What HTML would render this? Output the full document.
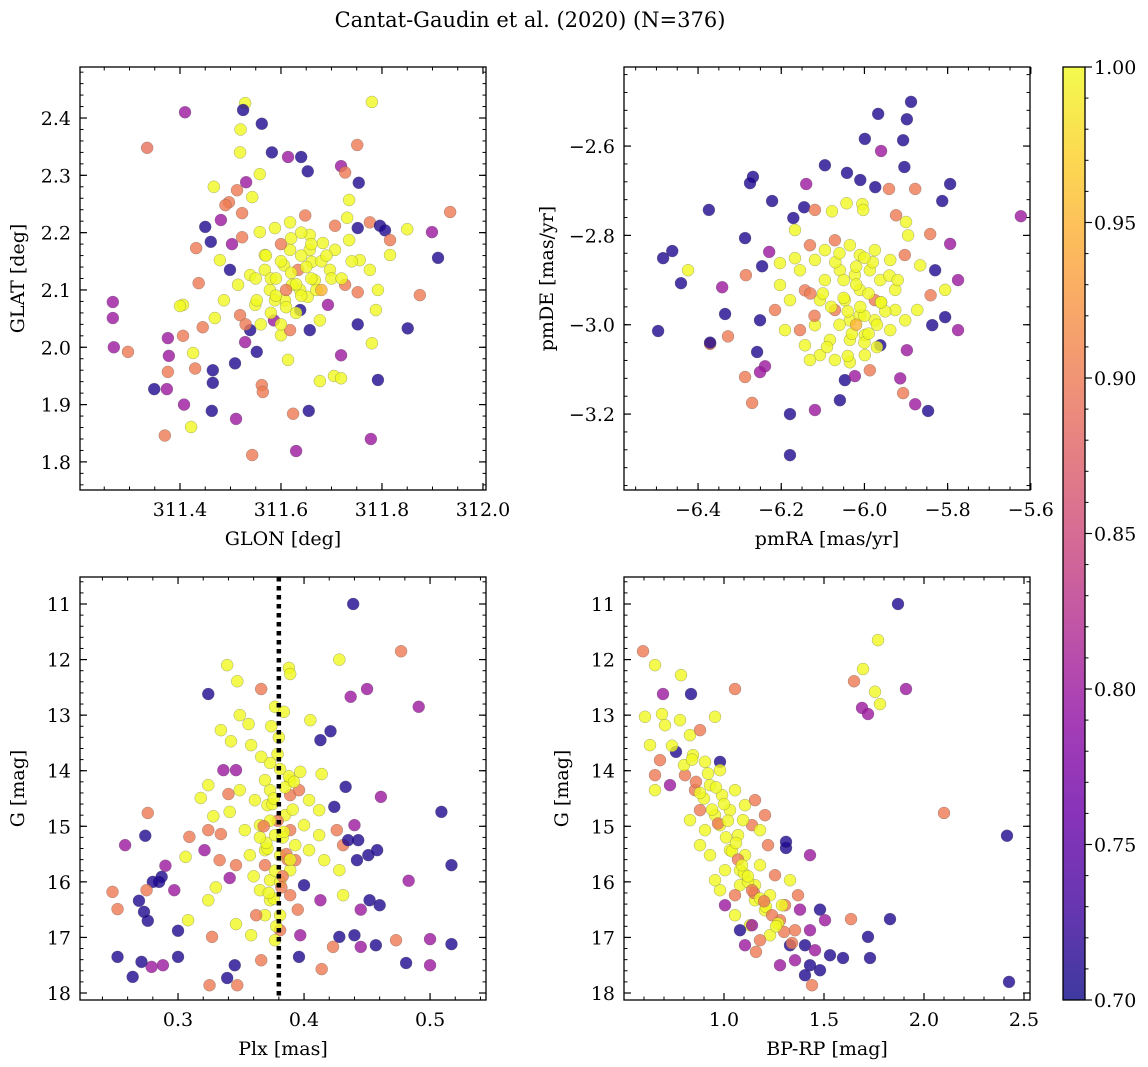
<!DOCTYPE html>
<html><head><meta charset="utf-8">
<style>
body{margin:0;background:#fff;}
svg{display:block;font-family:"DejaVu Serif","Liberation Serif",serif;}
</style></head>
<body>
<svg id="fig" width="1148" height="1067" viewBox="0 0 1148 1067" xmlns="http://www.w3.org/2000/svg">
<text x="530" y="27" font-size="21" text-anchor="middle">Cantat-Gaudin et al. (2020) (N=376)</text>
</svg>
<script>
// ---- Panel 1: GLON vs GLAT ----
const glonX=[311.529,311.525,311.562,311.780,311.41,311.335,311.52,311.519,311.582,311.614,311.64,311.751,311.719,311.754,311.653,311.727,311.558,311.467,311.513,311.497,311.49,311.543,311.523,311.45,311.481,311.432,311.461,311.503,311.523,311.558,311.588,311.618,311.648,311.657,311.683,311.707,311.731,311.735,311.752,311.776,311.796,311.806,311.816,311.85,311.899,311.935,311.911,311.875,311.851,311.788,311.78,311.792,311.778,311.752,311.719,311.705,311.719,311.677,311.655,311.624,311.63,311.543,311.511,311.562,311.564,311.614,311.6,311.552,311.509,311.465,311.465,311.463,311.422,311.408,311.37,311.349,311.374,311.376,311.378,311.376,311.406,311.426,311.43,311.406,311.4,311.437,311.445,311.469,311.487,311.519,311.549,311.578,311.608,311.638,311.667,311.697,311.727,311.756,311.661,311.634,311.606,311.568,311.539,311.499,311.479,311.515,311.638,311.677,311.693,311.657,311.586,311.618,311.539,311.529,311.552,311.588,311.622,311.653,311.568,311.618,311.657,311.707,311.735,311.267,311.267,311.269,311.297,311.752,311.792,311.776,311.816,311.531,
 311.58,311.6,311.62,311.64,311.66,311.68,311.59,311.61,311.63,311.65,311.67,311.57,311.6,311.62,311.64,311.66,311.7,311.55,311.58,311.61,311.63,311.69,311.72,311.56,311.6,311.64,311.68,311.53,311.74,311.59];
const glatY=[2.426,2.414,2.390,2.428,2.41,2.348,2.38,2.340,2.34,2.332,2.332,2.353,2.316,2.287,2.307,2.305,2.302,2.28,2.274,2.253,2.248,2.262,2.234,2.21,2.222,2.173,2.184,2.18,2.192,2.201,2.208,2.218,2.23,2.196,2.182,2.212,2.226,2.257,2.208,2.218,2.212,2.204,2.187,2.206,2.201,2.236,2.156,2.091,2.033,2.065,2.007,1.943,1.84,2.04,1.986,1.95,1.946,1.941,1.889,1.884,1.819,1.812,1.875,1.934,1.922,1.978,2.021,1.992,1.972,1.96,1.938,1.889,1.861,1.90,1.846,1.927,1.927,1.957,1.985,2.016,2.02,1.99,1.963,2.074,2.072,2.112,2.035,2.051,2.082,2.056,2.074,2.1,2.082,2.1,2.117,2.135,2.109,2.152,2.149,2.135,2.143,2.135,2.126,2.135,2.152,2.109,2.065,2.047,2.074,2.03,2.047,2.03,2.03,2.009,2.082,2.082,2.109,2.088,2.161,2.17,2.17,2.17,2.187,2.079,2.051,2.0,1.992,2.096,2.1,2.135,2.161,2.288,
 2.12,2.15,2.13,2.16,2.12,2.15,2.09,2.07,2.11,2.14,2.1,2.16,2.18,2.19,2.2,2.18,2.12,2.12,2.06,2.1,2.06,2.16,2.12,2.04,2.04,2.09,2.1,2.04,2.15,2.12];
const glonP=[1,0.71,0.71,1,0.8,0.89,1,1,0.71,0.8,0.71,0.9,0.8,0.71,0.71,0.9,1,1,0.9,0.9,0.9,1,0.9,0.71,0.8,0.9,0.71,0.8,0.9,1,1,1,0.9,1,1,0.9,1,1,0.71,0.9,0.71,0.71,0.9,1,0.8,0.9,0.71,0.9,0.71,1,1,0.71,0.8,0.71,0.8,1,1,1,0.71,0.9,0.8,0.9,0.8,0.9,0.9,1,1,0.71,0.71,0.71,0.71,0.71,1,0.8,0.9,0.71,0.8,0.9,0.8,0.8,0.9,1,0.9,1,1,0.9,0.9,1,1,0.9,1,1,1,1,1,1,0.9,1,1,0.9,1,1,1,0.71,1,1,0.71,1,0.8,0.71,0.8,0.9,0.71,0.8,1,1,1,1,1,1,1,1,1,0.8,0.8,0.8,0.9,0.9,1,1,1,0.8,
 1,1,1,1,1,1,1,1,1,1,1,1,0.9,1,1,1,1,1,1,0.9,1,1,1,1,1,1,0.95,0.9,1,1];
// ---- Panel 2: pmRA vs pmDE ----
const pmraX=[-5.888,-5.967,-5.898,-5.96,-5.999,-5.907,-5.904,-6.095,-6.14,-6.268,-6.275,-6.042,-6.01,-5.974,-5.941,-5.878,-5.794,-5.813,-6.222,-6.374,-6.145,-6.119,-6.078,-6.043,-6.005,-6.003,-5.924,-5.9,-5.842,-5.794,-5.624,-5.895,-6.167,-6.171,-6.287,-6.462,-6.484,-6.424,-6.441,-6.342,-6.285,-6.246,-6.229,-6.203,-6.167,-6.131,-6.095,-6.071,-6.035,-6.011,-5.975,-5.938,-5.903,-5.866,-5.83,-5.775,-5.806,-5.841,-5.873,-5.902,-5.938,-5.806,-5.775,-5.837,-5.898,-5.962,-5.999,-6.035,-6.071,-6.107,-6.143,-6.179,-6.215,-6.251,-6.335,-6.328,-6.371,-6.371,-6.496,-6.258,-6.239,-6.251,-6.287,-6.27,-6.179,-6.119,-6.179,-6.059,-6.047,-6.023,-5.987,-5.914,-5.907,-5.878,-5.847,-6.143,-6.107,-6.071,-6.131,-6.035,-6.083,-6.047,-6.011,-5.975,-5.962,-5.926,-5.987,-6.023,-6.059,-6.095,-6.119,-6.155,-6.191,-6.011,-5.975,-5.926,-6.035,-5.999,-6.155,-6.119,-6.203,
 -6.05,-6.02,-5.99,-5.96,-6.08,-6.04,-6.0,-5.97,-6.06,-6.03,-6.0,-6.1,-5.95,-6.07,-6.02,-5.98,-5.94,-6.12,-6.05,-6.01,-5.97,-6.09,-6.04,-5.99,-6.13,-5.92,-6.0,-6.06,-5.96,-6.02];
const pmdeY=[-2.501,-2.528,-2.54,-2.611,-2.584,-2.587,-2.647,-2.643,-2.685,-2.669,-2.683,-2.66,-2.676,-2.692,-2.696,-2.696,-2.685,-2.723,-2.723,-2.743,-2.737,-2.743,-2.746,-2.728,-2.73,-2.743,-2.755,-2.77,-2.797,-2.819,-2.757,-2.8,-2.788,-2.761,-2.806,-2.835,-2.851,-2.878,-2.907,-2.916,-2.889,-2.869,-2.837,-2.862,-2.851,-2.822,-2.833,-2.811,-2.822,-2.844,-2.833,-2.855,-2.844,-2.867,-2.878,-2.9,-2.922,-2.934,-2.967,-2.99,-3.012,-2.983,-3.012,-3.001,-3.057,-3.046,-3.023,-2.99,-2.967,-2.945,-2.923,-2.945,-2.967,-2.99,-2.976,-3.026,-3.043,-3.04,-3.014,-3.061,-3.093,-3.106,-3.117,-3.175,-3.2,-3.191,-3.292,-3.169,-3.124,-3.115,-3.102,-3.12,-3.153,-3.178,-3.193,-3.046,-3.068,-3.079,-3.079,-3.084,-3.034,-2.945,-2.922,-2.945,-2.9,-2.922,-2.878,-2.889,-2.878,-2.9,-3.001,-3.012,-3.012,-2.979,-2.99,-2.967,-3.034,-3.068,-2.878,-2.855,-2.911,
 -2.9,-2.91,-2.93,-2.95,-2.96,-2.97,-2.98,-3.0,-3.0,-3.02,-3.04,-2.93,-2.97,-2.86,-2.87,-2.86,-2.89,-2.98,-2.94,-2.96,-3.05,-3.05,-3.07,-3.02,-2.93,-2.9,-2.85,-2.84,-2.95,-3.0];
const pmP=[0.71,0.71,0.71,0.8,0.71,0.71,0.71,0.71,0.8,0.71,0.71,0.71,0.71,0.71,0.9,0.9,0.71,0.71,0.71,0.71,0.71,0.9,1,1,1,1,0.9,1,0.9,0.8,0.8,1,1,0.71,0.71,0.71,0.71,1,0.71,0.8,0.9,0.71,0.8,1,1,0.9,1,0.9,1,1,1,1,0.9,1,0.71,0.8,1,0.9,1,1,1,0.71,0.8,0.71,0.8,0.71,1,1,0.9,1,0.9,1,0.9,0.71,0.71,0.9,0.9,0.71,0.71,0.71,0.8,0.8,0.9,0.9,0.71,0.8,0.71,0.71,0.71,0.8,0.9,0.8,0.9,0.8,0.71,1,1,1,1,1,1,1,1,0.9,1,1,1,1,1,1,1,0.9,1,1,1,1,1,1,1,1,1,
 1,1,1,1,1,1,1,1,1,1,1,1,1,1,1,1,1,0.9,1,1,1,1,1,1,0.9,1,1,1,1,0.95];
// ---- Panel 3: Plx vs G ----
const plxX=[0.439,0.477,0.428,0.388,0.389,0.339,0.347,0.366,0.324,0.45,0.437,0.491,0.377,0.384,0.349,0.356,0.334,0.342,0.358,0.405,0.413,0.421,0.414,0.397,0.381,0.373,0.366,0.346,0.336,0.324,0.318,0.34,0.349,0.361,0.371,0.389,0.396,0.404,0.412,0.424,0.433,0.461,0.509,0.341,0.328,0.324,0.334,0.309,0.274,0.258,0.276,0.353,0.365,0.377,0.389,0.4,0.412,0.426,0.44,0.431,0.443,0.451,0.458,0.442,0.428,0.416,0.404,0.393,0.381,0.369,0.357,0.346,0.333,0.321,0.306,0.29,0.287,0.285,0.28,0.297,0.275,0.269,0.252,0.248,0.273,0.276,0.3,0.308,0.324,0.33,0.341,0.365,0.373,0.389,0.4,0.413,0.431,0.445,0.452,0.46,0.483,0.517,0.327,0.346,0.358,0.381,0.397,0.428,0.44,0.457,0.473,0.5,0.517,0.5,0.481,0.445,0.423,0.414,0.396,0.366,0.345,0.339,0.325,0.347,0.3,0.279,0.271,0.264,0.252,0.288,0.377,0.369,0.381,0.389,0.373,0.393,0.369,0.385,0.373,0.389,0.369,0.435,
 0.375,0.379,0.383,0.371,0.387,0.377,0.381,0.373,0.385,0.379,0.368,0.391,0.376,0.383,0.372,0.388,0.38,0.374,0.386,0.37,0.36,0.395,0.378,0.384,0.362,0.392,0.376,0.382,0.365,0.389];
const plxG=[11.0,11.85,12.0,12.15,12.26,12.1,12.39,12.53,12.62,12.53,12.67,12.85,12.85,12.94,13.0,13.16,13.27,13.47,13.54,13.09,13.45,13.29,14.06,14.02,13.97,13.86,13.75,13.99,13.99,14.26,14.49,14.42,14.35,14.53,14.62,14.44,14.35,14.53,14.71,14.65,14.29,14.47,14.74,14.74,14.82,15.07,15.14,15.19,15.17,15.34,14.76,15.07,14.98,15.16,15.07,14.98,15.16,15.07,14.98,15.34,15.25,15.52,15.43,15.61,15.79,15.61,15.43,15.61,15.52,15.7,15.52,15.7,15.61,15.43,15.55,15.71,15.91,16.0,16.0,16.15,16.15,16.34,16.49,16.18,16.54,16.7,16.88,16.69,16.33,16.1,15.93,16.15,16.33,16.24,16.06,16.33,16.24,16.5,16.33,16.42,15.98,15.7,16.99,16.76,16.96,16.87,16.96,16.99,16.96,17.14,17.05,17.03,17.12,17.5,17.46,17.17,17.17,17.57,17.35,17.41,17.5,17.73,17.86,17.86,17.35,17.53,17.44,17.71,17.35,17.5,17.05,16.6,16.6,15.79,15.97,15.34,15.43,14.8,14.35,14.17,14.17,15.25,
 14.6,14.9,15.2,15.4,15.6,15.8,16.0,14.9,14.3,13.7,15.0,14.7,16.3,15.9,16.2,14.1,13.4,13.2,15.5,15.3,15.9,16.5,16.8,15.1,16.6,14.2,14.5,16.1,15.2,15.6];
const plxP=[0.71,0.9,1,1,1,1,1,0.9,0.71,0.8,0.8,0.8,1,1,1,1,1,1,1,1,0.71,0.71,1,1,1,1,1,0.8,0.8,1,1,0.9,1,1,1,0.9,0.9,1,1,0.71,0.71,0.8,0.71,1,1,0.9,0.9,0.9,0.71,0.8,0.9,1,1,1,0.9,1,1,0.9,0.8,0.9,0.71,0.71,0.71,0.71,1,1,1,0.9,1,0.9,1,0.9,0.9,0.8,1,0.8,0.71,0.71,0.71,0.8,0.9,0.71,0.9,0.9,0.71,0.71,0.71,1,1,1,0.8,1,1,0.9,0.71,0.8,1,0.8,0.71,0.71,0.8,0.71,0.9,1,1,0.9,0.8,0.71,0.71,0.71,0.9,0.8,0.71,0.8,0.71,0.8,0.9,0.9,0.71,0.9,0.71,0.71,0.9,0.9,0.71,0.8,0.71,0.71,0.71,0.8,1,1,1,1,1,1,1,1,1,1,1,0.71,
 1,0.9,1,1,0.9,1,1,1,1,1,0.9,1,1,0.9,1,1,1,1,0.9,1,1,0.9,1,1,0.9,1,1,0.9,1,1];
// ---- Panel 4: BP-RP vs G ----
const bprpX=[1.87,0.595,0.655,0.785,1.055,0.835,0.695,1.91,1.77,1.65,1.695,1.755,1.78,1.69,1.72,0.69,0.605,0.705,0.78,0.83,0.88,0.955,0.63,0.68,0.76,0.845,0.905,0.98,0.98,0.655,0.655,0.73,0.805,0.855,0.93,0.99,1.055,1.105,1.155,1.03,0.955,0.88,0.83,0.905,0.98,1.07,1.14,1.22,1.31,1.31,1.43,2.1,2.415,2.425,1.83,1.72,1.635,1.73,1.53,1.595,1.105,1.18,1.255,1.33,1.08,1.155,1.23,1.305,1.38,1.48,1.505,1.205,1.28,1.355,1.43,1.13,1.23,1.18,1.08,1.105,1.33,1.405,1.455,1.355,1.28,1.43,1.48,1.405,1.44,1.16,1.14,1.055,1.005,0.98,1.08,1.005,0.93,1.03,1.18,1.095,1.205,1.29,1.37,1.155,1.055,0.955,0.88,
 0.74,0.8,0.86,0.9,0.94,0.97,1.01,1.04,1.07,1.1,1.12,1.15,1.18,1.21,1.24,1.27,1.3,1.34,1.0,1.06,1.12,1.2,1.26,0.92,0.96,1.02,1.09,1.14,0.84,0.88];
const bprpG=[11.0,11.85,12.1,12.28,12.53,12.62,12.62,12.53,11.65,12.39,12.17,12.58,12.8,12.87,12.98,12.98,13.03,13.18,13.09,13.36,13.27,13.03,13.54,13.81,13.66,13.72,13.84,13.84,13.99,14.08,14.35,14.26,14.08,14.35,14.26,14.44,14.35,14.62,14.53,14.71,14.8,14.71,14.89,15.07,14.98,15.16,14.98,15.34,15.39,15.28,15.52,14.76,15.17,17.8,16.67,16.99,16.67,17.37,17.32,17.37,15.52,15.7,15.88,15.97,15.79,16.06,16.24,16.42,16.5,16.5,16.69,16.51,16.69,16.87,16.87,16.78,16.96,17.05,16.87,17.14,17.14,17.14,17.23,17.41,17.5,17.5,17.59,17.68,17.86,17.26,16.78,16.6,16.42,16.15,16.06,15.79,15.52,15.43,15.07,14.89,14.8,16.42,16.24,16.33,16.24,15.97,15.34,
 13.55,13.9,14.2,14.5,14.7,14.95,15.2,15.45,15.6,15.85,16.0,16.2,16.3,16.45,16.6,16.75,16.9,17.1,14.6,15.3,15.9,16.35,16.8,14.05,14.3,14.9,15.7,16.15,13.8,14.4];
const bprpP=[0.71,0.9,1,1,0.9,0.71,0.8,0.8,1,0.9,1,1,1,0.8,0.8,1,1,1,1,1,0.9,1,1,0.9,0.71,1,1,0.71,1,0.9,1,0.8,0.9,0.9,1,1,1,1,0.9,1,1,0.9,1,1,1,1,0.9,0.9,0.71,0.71,0.8,0.9,0.71,0.71,0.71,0.71,0.9,0.71,0.71,0.71,1,1,0.9,1,1,1,1,0.9,0.8,0.71,0.8,1,0.9,0.9,0.8,1,1,0.9,0.71,0.8,0.71,0.71,0.8,0.8,0.8,0.71,0.71,0.71,0.9,0.9,0.8,1,0.8,1,1,1,1,1,1,1,0.9,1,0.9,1,0.9,1,1,
 1,1,0.9,1,1,0.9,1,1,0.9,1,1,0.9,1,1,0.9,1,0.9,0.9,1,1,1,0.9,1,1,1,1,1,0.9,1,1];
// ---- Colorbar ----
const cbTicks=[0.70,0.75,0.80,0.85,0.90,0.95,1.00];
const plxRef=0.38;

const NS="http://www.w3.org/2000/svg";
const svg=document.getElementById('fig');
const FS=19;
function mk(tag,attrs,parent){const e=document.createElementNS(NS,tag);for(const k in attrs)e.setAttribute(k,attrs[k]);(parent||svg).appendChild(e);return e;}
const stops=[[13,8,135],[65,4,157],[106,0,168],[143,13,164],[177,42,144],[204,71,120],[225,100,98],[242,132,75],[252,166,54],[252,206,37],[240,249,33]];
function plasma(t){t=Math.max(0,Math.min(1,t));const f=t*10,i=Math.min(9,Math.floor(f)),r=f-i;const a=stops[i],b=stops[i+1];return 'rgb('+a.map((v,k)=>Math.round(v+(b[k]-v)*r)).join(',')+')';}
function pcol(p){return plasma((p-0.7)/0.3);}
function fmt(v,d){return (v<0?'\u2212':'')+Math.abs(v).toFixed(d);}

function panel(cfg){
  const {name,x0,x1,y0,y1,xmin,xmax,ymin,ymax,invert}=cfg;
  const g=mk('g',{});
  
  
  const sx=v=>x0+(v-xmin)/(xmax-xmin)*(x1-x0);
  const sy=v=>invert? y0+(v-ymin)/(ymax-ymin)*(y1-y0) : y1-(v-ymin)/(ymax-ymin)*(y1-y0);
  const clipId=name+'-clip';
  const cp=mk('clipPath',{id:clipId},g);mk('rect',{x:x0,y:y0,width:x1-x0,height:y1-y0},cp);
  const pts=mk('g',{'clip-path':'url(#'+clipId+')'},g);
  cfg.xs.forEach((xv,i)=>{
    const c=mk('circle',{cx:sx(xv),cy:sy(cfg.ys[i]),r:6,fill:pcol(cfg.ps[i]),'fill-opacity':0.8,stroke:'#555','stroke-opacity':0.5,'stroke-width':0.5},pts);
    
    
  });
  if(cfg.after)cfg.after(pts,sx,sy);
  mk('rect',{x:x0,y:y0,width:x1-x0,height:y1-y0,fill:'none',stroke:'#000','stroke-width':1.3},g);
  function ticks(lo,hi,step,len,axis){
    const n0=Math.ceil((lo-1e-9)/step),n1=Math.floor((hi+1e-9)/step);
    for(let n=n0;n<=n1;n++){const v=n*step;
      if(axis==='x'){const X=sx(v);mk('line',{x1:X,x2:X,y1:y1,y2:y1-len,stroke:'#000','stroke-width':1},g);mk('line',{x1:X,x2:X,y1:y0,y2:y0+len,stroke:'#000','stroke-width':1},g);}
      else{const Y=sy(v);mk('line',{y1:Y,y2:Y,x1:x0,x2:x0+len,stroke:'#000','stroke-width':1},g);mk('line',{y1:Y,y2:Y,x1:x1,x2:x1-len,stroke:'#000','stroke-width':1},g);}
    }
  }
  ticks(Math.min(xmin,xmax),Math.max(xmin,xmax),cfg.xminor,3.5,'x');
  ticks(Math.min(ymin,ymax),Math.max(ymin,ymax),cfg.yminor,3.5,'y');
  cfg.xticks.forEach(v=>{const X=sx(v);mk('line',{x1:X,x2:X,y1:y1,y2:y1-7,stroke:'#000','stroke-width':1.2},g);mk('line',{x1:X,x2:X,y1:y0,y2:y0+7,stroke:'#000','stroke-width':1.2},g);
    const t=mk('text',{x:X,y:y1+26,'font-size':FS,'text-anchor':'middle'},g);t.textContent=fmt(v,cfg.xd);
    });
  cfg.yticks.forEach(v=>{const Y=sy(v);mk('line',{y1:Y,y2:Y,x1:x0,x2:x0+7,stroke:'#000','stroke-width':1.2},g);mk('line',{y1:Y,y2:Y,x1:x1,x2:x1-7,stroke:'#000','stroke-width':1.2},g);
    const t=mk('text',{x:x0-9,y:Y+7,'font-size':FS,'text-anchor':'end'},g);t.textContent=fmt(v,cfg.yd);
    });
  const xl=mk('text',{x:(x0+x1)/2,y:y1+55,'font-size':FS,'text-anchor':'middle'},g);xl.textContent=cfg.xlabel;
  
  const yx=cfg.ylx,yy=(y0+y1)/2;
  const yl=mk('text',{x:yx,y:yy,'font-size':FS,'text-anchor':'middle',transform:'rotate(-90 '+yx+' '+yy+')'},g);yl.textContent=cfg.ylabel;
  
}

panel({name:'glon-glat-panel',x0:80,x1:486,y0:67,y1:490,xmin:311.202,xmax:312.006,ymin:1.751,ymax:2.489,xs:glonX,ys:glatY,ps:glonP,
 xticks:[311.4,311.6,311.8,312.0],yticks:[1.8,1.9,2.0,2.1,2.2,2.3,2.4],xminor:0.05,yminor:0.02,xd:1,yd:1,xlabel:'GLON [deg]',ylabel:'GLAT [deg]',ylx:24});
panel({name:'pm-panel',x0:624,x1:1030,y0:67,y1:490,xmin:-6.578,xmax:-5.602,ymin:-3.370,ymax:-2.423,xs:pmraX,ys:pmdeY,ps:pmP,
 xticks:[-6.4,-6.2,-6.0,-5.8,-5.6],yticks:[-3.2,-3.0,-2.8,-2.6],xminor:0.05,yminor:0.04,xd:1,yd:1,xlabel:'pmRA [mas/yr]',ylabel:'pmDE [mas/yr]',ylx:553});
panel({name:'plx-g-panel',x0:80,x1:486,y0:577,y1:1000,xmin:0.2222,xmax:0.5444,ymin:10.514,ymax:18.126,invert:true,xs:plxX,ys:plxG,ps:plxP,
 xticks:[0.3,0.4,0.5],yticks:[11,12,13,14,15,16,17,18],xminor:0.02,yminor:0.2,xd:1,yd:0,xlabel:'Plx [mas]',ylabel:'G [mag]',ylx:24,
 after:(gp,sx,sy)=>{const l=mk('line',{x1:sx(plxRef),x2:sx(plxRef),y1:577,y2:1000,stroke:'#000','stroke-width':4.5,'stroke-dasharray':'4.5 4.5'},gp);
   }});
panel({name:'cmd-panel',x0:624,x1:1030,y0:577,y1:1000,xmin:0.5,xmax:2.53,ymin:10.514,ymax:18.126,invert:true,xs:bprpX,ys:bprpG,ps:bprpP,
 xticks:[1.0,1.5,2.0,2.5],yticks:[11,12,13,14,15,16,17,18],xminor:0.1,yminor:0.2,xd:1,yd:0,xlabel:'BP-RP [mag]',ylabel:'G [mag]',ylx:568});

const cb=mk('g',{});


const defs=mk('defs',{},cb);
const lg=mk('linearGradient',{id:'cbgrad',x1:0,y1:1,x2:0,y2:0},defs);
for(let i=0;i<=10;i++){mk('stop',{offset:i/10,'stop-color':plasma(i/10),'stop-opacity':0.8},lg);}
const cbx0=1063,cbx1=1085,cby0=67,cby1=1000;
mk('rect',{x:cbx0,y:cby0,width:cbx1-cbx0,height:cby1-cby0,fill:'url(#cbgrad)',stroke:'#000','stroke-width':1.3},cb);
const cy=v=>cby1-(v-0.70)/0.30*(cby1-cby0);
for(let v=0.70;v<=1.0001;v+=0.01){mk('line',{x1:cbx1,x2:cbx1+3.5,y1:cy(v),y2:cy(v),stroke:'#000','stroke-width':1},cb);}
cbTicks.forEach(v=>{mk('line',{x1:cbx1,x2:cbx1+7,y1:cy(v),y2:cy(v),stroke:'#000','stroke-width':1.2},cb);
 const t=mk('text',{x:cbx1+9,y:cy(v)+7,'font-size':FS},cb);t.textContent=v.toFixed(2);
 });
</script>
</body></html>
